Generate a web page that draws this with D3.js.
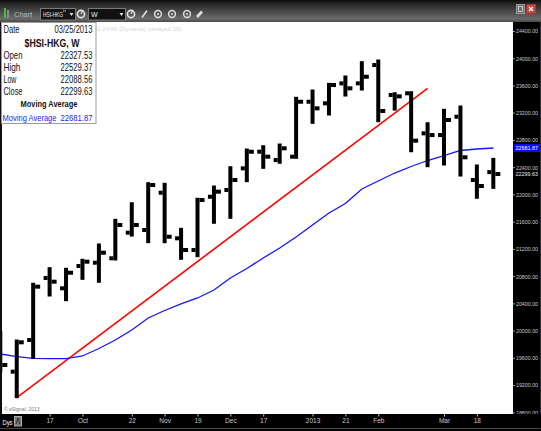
<!DOCTYPE html>
<html><head><meta charset="utf-8">
<script src="https://cdn.jsdelivr.net/npm/d3@7"></script>
<style>html,body{margin:0;padding:0;background:#000;overflow:hidden}svg{display:block}</style>
</head><body><svg id="c" width="541" height="431"></svg>
<script>
// ---------- data (weekly OHLC, $HSI-HKG) ----------
const weeks = ["2012-08-27","2012-09-03","2012-09-10","2012-09-17","2012-09-24","2012-10-01","2012-10-08","2012-10-15","2012-10-22","2012-10-29","2012-11-05","2012-11-12","2012-11-19","2012-11-26","2012-12-03","2012-12-10","2012-12-17","2012-12-24","2012-12-31","2013-01-07","2013-01-14","2013-01-21","2013-01-28","2013-02-04","2013-02-11","2013-02-18","2013-02-25","2013-03-04","2013-03-11","2013-03-18","2013-03-25"];
const openV  = [19700,19397,19862,20773,20621,20949,20997,21062,21438,21477,22025,21355,21184,21966,22065,22383,22627,22505,22554,23361,23338,23631,23631,23900,23460,23485,22897,22872,23141,22212,22327.53];
const highV  = [19984,19862,20695,20924,20915,21047,21272,21634,21878,22172,22163,21502,21943,22123,22407,22667,22715,22740,23426,23533,23631,23739,23949,23974,23493,23508,23053,23250,23298,22432,22529.37];
const lowV   = [19392,19015,19593,20508,20439,20753,20709,21037,21389,21291,21291,21047,21085,21576,21649,22187,22383,22457,22530,23044,23166,23445,23533,23068,23239,22627,22407,22432,22270,21943,22088.56];
const closeV = [19495,19828,20645,20718,20850,21012,21144,21551,21551,22138,21379,21184,21918,22040,22212,22627,22554,22677,23361,23264,23607,23558,23728,23225,23440,22789,22872,23093,22545,22123,22299.63];
const maV    = [19657,19617,19593,19588,19588,19627,19737,19862,20009,20185,20295,20391,20479,20596,20773,20912,21066,21213,21375,21551,21727,21866,22079,22197,22314,22410,22498,22571,22645,22667,22681.87];
const yTicks = [24400,24000,23600,23200,22800,22400,22000,21600,21200,20800,20400,20000,19600,19200,18800];
const xTickDates  = ["2012-09-17","2012-10-01","2012-10-22","2012-11-05","2012-11-19","2012-12-03","2012-12-17","2013-01-07","2013-01-21","2013-02-04","2013-03-04","2013-03-18"];
const xTickLabels = ["17","Oct","22","Nov","19","Dec","17","2013","21","Feb","Mar","18"];
const trendDates  = ["2012-09-03","2013-02-25"];
const trendValues = [19015,23558];
const infoLabels  = ["Open","High","Low","Close"];
const lastDateLabel = "03/25/2013";
const symbolLabel = "$HSI-HKG, W";

// ---------- setup ----------
const svg = d3.select("#c");
const parse = d3.utcParse("%Y-%m-%d");
const dates = weeks.map(parse);
const f2 = d3.format(".2f");
const PL = 2, PR = 513, PT = 22, PB = 414;
const FONT = "'Liberation Sans', Arial, sans-serif";

const x = d3.scaleUtc().domain(d3.extent(dates)).range([0.3, 493.3]);
const y = d3.scaleLinear().domain([18800, 24400]).range([412.3, 31]);

const defs = svg.append("defs");
const g1 = defs.append("linearGradient").attr("id","tb").attr("x1",0).attr("x2",0).attr("y1",0).attr("y2",1);
[[0,"#0d0d0d"],[0.18,"#262626"],[0.5,"#474747"],[0.85,"#6a6a6a"],[1,"#4a4a4a"]].forEach(s=>g1.append("stop").attr("offset",s[0]).attr("stop-color",s[1]));
defs.append("clipPath").attr("id","plot").append("rect").attr("x",PL).attr("y",PT).attr("width",PR-PL).attr("height",PB-PT);

// horizontally condensed text helper (narrow look of the original font)
function ntext(parent, t, xx, yy, len, opts={}){
  const e = parent.append("text").text(t).attr("font-size",opts.fs||10).attr("font-family",FONT)
    .attr("fill",opts.fill||"#111");
  if(opts.anchor) e.attr("text-anchor",opts.anchor);
  if(opts.bold) e.attr("font-weight","bold");
  const w = e.node().getComputedTextLength() || len;
  e.attr("transform",`translate(${xx},${yy}) scale(${len/w},1)`);
  return e;
}

// backgrounds
svg.append("rect").attr("width",541).attr("height",431).attr("fill","#000");
svg.append("rect").attr("x",PL).attr("y",PT).attr("width",PR-PL).attr("height",PB-PT).attr("fill","#fff");
svg.append("rect").attr("width",541).attr("height",22).attr("fill","url(#tb)");
svg.append("line").attr("x1",0).attr("x2",541).attr("y1",428.5).attr("y2",428.5).attr("stroke","#4a4a4a");
svg.append("line").attr("x1",540.5).attr("x2",540.5).attr("y1",22).attr("y2",429).attr("stroke","#333");

// ---------- toolbar ----------
const tb = svg.append("g");
tb.append("rect").attr("x",4).attr("y",8).attr("width",2).attr("height",10).attr("fill","#3cc43c");
tb.append("rect").attr("x",7).attr("y",10).attr("width",2).attr("height",8).attr("fill","#8a8a8a");
tb.append("text").attr("x",14).attr("y",16.5).text("Chart").attr("fill","#b8b8b8").attr("font-size",7.5).attr("font-family",FONT);
tb.append("rect").attr("x",40.5).attr("y",8.5).attr("width",35).attr("height",11.5).attr("fill","#151515").attr("stroke","#7a7a7a");
ntext(tb,"HSI-HKG",43,17.3,20,{fs:7,fill:"#eee"});
tb.append("path").attr("d","M63.5,12 L63.5,9.5 L65.5,12 L65.5,9.5").attr("fill","none").attr("stroke","#5a8cff").attr("stroke-width",0.7);
tb.append("path").attr("d","M69.5,13 L73.5,13 L71.5,16 Z").attr("fill","#ddd");
tb.append("rect").attr("x",88.5).attr("y",8.5).attr("width",37).attr("height",11.5).attr("fill","#111").attr("stroke","#7a7a7a");
tb.append("text").attr("x",91).attr("y",17.3).text("W").attr("fill","#eee").attr("font-size",7).attr("font-family",FONT);
tb.append("path").attr("d","M119.5,13 L123.5,13 L121.5,16 Z").attr("fill","#ddd");
[81,131].forEach(cx=>{
  tb.append("circle").attr("cx",cx).attr("cy",14).attr("r",3.6).attr("fill","none").attr("stroke","#e6e6e6").attr("stroke-width",1.6);
  tb.append("line").attr("x1",cx).attr("x2",cx+1.5).attr("y1",14).attr("y2",11).attr("stroke","#e6e6e6").attr("stroke-width",1.2);
});
tb.append("line").attr("x1",142).attr("y1",17.5).attr("x2",147).attr("y2",10.5).attr("stroke","#ddd").attr("stroke-width",1.6);
[158,172,187].forEach(cx=>{
  tb.append("circle").attr("cx",cx).attr("cy",14).attr("r",3.4).attr("fill","none").attr("stroke","#ddd").attr("stroke-width",1.5);
  tb.append("circle").attr("cx",cx).attr("cy",14).attr("r",1).attr("fill","#ddd");
});
tb.append("path").attr("d","M196,16 L201,10.5 L203,12.5 L198,18 Z").attr("fill","#ddd");
tb.append("rect").attr("x",516.5).attr("y",4.5).attr("width",8).attr("height",9).attr("fill","#6e6e6e").attr("stroke","#999");
tb.append("rect").attr("x",518.5).attr("y",6.5).attr("width",4).attr("height",5).attr("fill","none").attr("stroke","#ddd").attr("stroke-width",0.8);
tb.append("rect").attr("x",526.5).attr("y",4.5).attr("width",9).attr("height",9).attr("fill","#c24a3a").attr("stroke","#a33");
tb.append("path").attr("d","M529,7 L533,11 M533,7 L529,11").attr("stroke","#fff").attr("stroke-width",1.2);

// ---------- plot ----------
const plot = svg.append("g").attr("clip-path","url(#plot)");
plot.append("text").attr("x",97).attr("y",31).text("0-24:00 (Dynamic) (delayed 15)").attr("fill","#d4d4d4").attr("font-size",6).attr("font-family",FONT);

// trend line
plot.append("line")
  .attr("x1",x(parse(trendDates[0]))).attr("y1",y(trendValues[0]))
  .attr("x2",x(parse(trendDates[1]))).attr("y2",y(trendValues[1]))
  .attr("stroke","#ff0000").attr("stroke-width",1.6);

// moving average
plot.append("path").datum(maV)
  .attr("d",d3.line().x((d,i)=>x(dates[i])).y(d=>y(d)))
  .attr("fill","none").attr("stroke","#1414ff").attr("stroke-width",1.3);

// OHLC bars
const bars = plot.append("g").attr("fill","#000");
dates.forEach((d,i)=>{
  const cx = x(d);
  bars.append("rect").attr("x",cx-2).attr("y",y(highV[i])-0.5).attr("width",4).attr("height",y(lowV[i])-y(highV[i])+1);
  bars.append("rect").attr("x",cx-6).attr("y",y(openV[i])-2).attr("width",4).attr("height",4);
  bars.append("rect").attr("x",cx+2).attr("y",y(closeV[i])-2).attr("width",5).attr("height",4);
});

plot.append("text").attr("x",4).attr("y",410.5).text("© eSignal, 2013").attr("fill","#7a7a7a").attr("font-size",5).attr("font-family",FONT);

svg.append("rect").attr("x",0).attr("y",PT).attr("width",1.6).attr("height",PB-PT).attr("fill","#111");

// ---------- right axis ----------
const ra = svg.append("g").attr("transform",`translate(${PR},0)`)
  .call(d3.axisRight(y).tickValues(yTicks).tickFormat(f2).tickSize(2).tickPadding(1));
ra.select(".domain").remove();
ra.selectAll("line").attr("stroke","#9a9a9a");
ra.selectAll("text").attr("fill","#c8c8c8").attr("font-size",6).attr("font-family",FONT)
  .attr("textLength",22).attr("lengthAdjust","spacingAndGlyphs");

const maLast = maV[maV.length-1], clLast = closeV[closeV.length-1];
svg.append("rect").attr("x",514).attr("y",y(maLast)-4).attr("width",26).attr("height",8).attr("fill","#0a0aff");
svg.append("text").attr("x",515.5).attr("y",y(maLast)+2.2).text(f2(maLast)).attr("fill","#fff").attr("font-size",6.2).attr("font-family",FONT).attr("textLength",22.5).attr("lengthAdjust","spacingAndGlyphs");
svg.append("rect").attr("x",514).attr("y",y(clLast)-3).attr("width",26).attr("height",6.5).attr("fill","#000");
svg.append("text").attr("x",515.5).attr("y",y(clLast)+2.2).text(f2(clLast)).attr("fill","#e8e8e8").attr("font-size",6.2).attr("font-family",FONT).attr("textLength",22.5).attr("lengthAdjust","spacingAndGlyphs");

// ---------- bottom axis ----------
svg.append("rect").attr("x",0).attr("y",PB).attr("width",541).attr("height",14).attr("fill","#000");
const ba = svg.append("g").attr("transform",`translate(0,${PB})`)
  .call(d3.axisBottom(x).tickValues(xTickDates.map(parse)).tickFormat((d,i)=>xTickLabels[i]).tickSize(2.5).tickPadding(2));
ba.select(".domain").remove();
ba.selectAll("line").attr("stroke","#bbb");
ba.selectAll("text").attr("fill","#c8c8c8").attr("font-size",6.5).attr("font-family",FONT);
ntext(svg,"Dys",2.5,425,10,{fs:8,fill:"#fff"});
svg.append("rect").attr("x",14.5).attr("y",416.5).attr("width",7).attr("height",9.5).attr("fill","#777").attr("stroke","#aaa");
svg.append("path").attr("d","M16,424 L18,418 L20,424").attr("fill","none").attr("stroke","#222").attr("stroke-width",0.8);

// ---------- info box ----------
const ib = svg.append("g");
ib.append("rect").attr("x",1.5).attr("y",22.5).attr("width",94.5).attr("height",101).attr("fill","#fff").attr("stroke","#9a9a9a");
ntext(ib,"Date",3.5,33,16);
ntext(ib,lastDateLabel,92.5,33,38,{anchor:"end"});
ntext(ib,symbolLabel,52,46.5,55,{anchor:"middle",bold:true});
const last = closeV.length-1;
const infoVals = [openV[last],highV[last],lowV[last],closeV[last]];
const infoLens = [19,17,13,19];
infoLabels.forEach((l,i)=>{
  const yy = 59 + i*12;
  ntext(ib,l,3.5,yy,infoLens[i]);
  ntext(ib,f2(infoVals[i]),92.5,yy,32,{anchor:"end"});
});
ntext(ib,"Moving Average",49,107,57,{anchor:"middle",bold:true,fs:9.5});
ntext(ib,"Moving Average",2.5,121,54,{fill:"#2323ee",fs:9.5});
ntext(ib,f2(maLast),92.5,121,32,{anchor:"end",fill:"#2323ee",fs:9.5});
</script></body></html>
